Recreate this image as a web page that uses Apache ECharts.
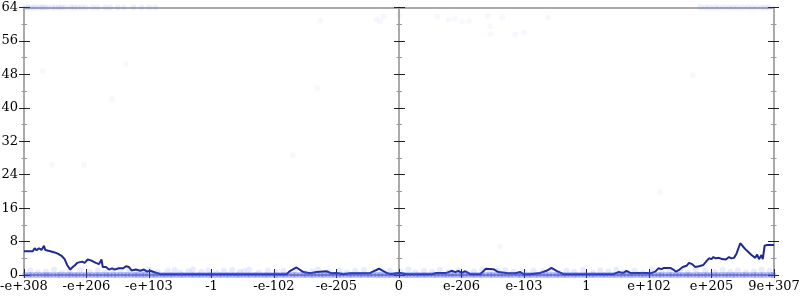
<!DOCTYPE html>
<html>
<head>
<meta charset="utf-8">
<script src="https://cdn.jsdelivr.net/npm/echarts@6/dist/echarts.min.js"></script>
<style>html,body{margin:0;padding:0;background:#fff}#c{width:800px;height:300px}</style>
</head>
<body>
<div id="c"></div>
<script>
// x axis tick labels (12 equal intervals)
const xTickLabels = ['-e+308','-e+206','-e+103','-1','-e-102','-e-205','0','e-206','e-103','1','e+102','e+205','9e+307'];
// y range
const yMax = 64, yStep = 8;

// main line: position (in tick-interval units) and value
const lineX = [0.00,0.14,0.17,0.20,0.24,0.28,0.32,0.34,0.37,0.42,0.45,0.49,0.54,0.60,0.65,0.69,0.74,0.78,0.82,0.85,0.88,0.93,0.97,1.02,1.07,1.11,1.15,1.20,1.24,1.26,1.31,1.36,1.41,1.45,1.52,1.59,1.63,1.68,1.72,1.79,1.86,1.92,1.97,2.02,2.10,2.18,4.20,4.26,4.36,4.47,4.58,4.68,4.84,4.92,5.00,5.11,5.22,5.38,5.54,5.68,5.80,5.86,5.96,6.02,6.12,6.52,6.60,6.76,6.84,6.90,6.95,7.00,7.06,7.14,7.30,7.39,7.51,7.59,7.72,7.86,7.94,7.99,8.10,8.26,8.36,8.44,8.52,8.63,9.43,9.51,9.59,9.64,9.70,9.96,10.02,10.10,10.15,10.20,10.24,10.34,10.39,10.43,10.49,10.54,10.60,10.64,10.69,10.74,10.80,10.87,10.92,10.96,11.00,11.03,11.07,11.12,11.17,11.23,11.28,11.32,11.36,11.40,11.46,11.51,11.56,11.64,11.70,11.73,11.76,11.80,11.82,11.85,11.89,12.00];
const lineY = [5.7,5.7,6.4,5.9,6.4,6.0,7.0,6.0,6.2,5.7,5.9,5.4,5.1,4.6,3.8,2.4,1.3,1.9,2.4,2.9,2.6,3.2,2.9,3.7,3.5,3.2,2.9,2.6,3.7,1.9,1.9,1.3,1.6,1.3,1.6,1.6,2.1,1.9,1.1,1.3,1.0,1.3,0.8,1.0,0.6,0.2,0.2,1.0,1.8,0.7,0.4,0.7,0.9,0.4,0.5,0.2,0.4,0.4,0.5,1.5,0.5,0.2,0.4,0.5,0.2,0.2,0.5,0.5,1.0,0.7,1.0,0.5,0.9,0.2,0.2,1.5,1.4,0.7,0.5,0.4,0.7,0.2,0.2,0.5,1.0,1.7,1.0,0.2,0.2,0.7,0.5,1.0,0.5,0.5,0.4,0.8,1.6,1.4,1.7,1.7,1.3,0.8,1.3,1.9,2.2,2.9,2.6,1.9,2.1,2.4,3.3,4.0,3.8,4.3,4.0,4.1,3.8,3.7,4.3,4.0,4.1,5.1,7.6,6.7,5.9,4.8,4.1,4.9,3.8,4.8,3.8,7.0,7.2,7.2];

// faint sample points: dense band at zero
const zeroDotX = [0.02,0.08,0.13,0.19,0.25,0.31,0.36,0.41,0.47,0.53,0.58,0.64,0.70,0.75,0.81,0.86,0.92,0.98,1.03,1.09,1.15,1.20,1.26,1.32,1.37,1.43,1.48,1.54,1.60,1.65,1.71,1.77,1.82,1.88,1.93,1.99,2.05,2.10,2.16,2.22,2.27,2.33,2.38,2.44,2.50,2.55,2.61,2.67,2.72,2.78,2.83,2.89,2.95,3.00,3.06,3.12,3.17,3.23,3.28,3.34,3.40,3.45,3.51,3.57,3.62,3.68,3.73,3.79,3.85,3.90,3.96,4.02,4.07,4.13,4.18,4.24,4.30,4.35,4.41,4.47,4.52,4.58,4.63,4.69,4.75,4.80,4.86,4.92,4.97,5.03,5.08,5.14,5.20,5.25,5.31,5.37,5.42,5.48,5.53,5.59,5.65,5.70,5.76,5.82,5.87,5.93,5.98,6.04,6.10,6.15,6.21,6.27,6.32,6.38,6.43,6.49,6.55,6.60,6.66,6.72,6.77,6.83,6.88,6.94,7.00,7.05,7.11,7.17,7.22,7.28,7.33,7.39,7.45,7.50,7.56,7.62,7.67,7.73,7.78,7.84,7.90,7.95,8.01,8.07,8.12,8.18,8.23,8.29,8.35,8.40,8.46,8.52,8.57,8.63,8.68,8.74,8.80,8.85,8.91,8.97,9.02,9.08,9.13,9.19,9.25,9.30,9.36,9.42,9.47,9.53,9.58,9.64,9.70,9.75,9.81,9.87,9.92,9.98,10.03,10.09,10.15,10.20,10.26,10.32,10.37,10.43,10.48,10.54,10.60,10.65,10.71,10.77,10.82,10.88,10.93,10.99,11.05,11.10,11.16,11.22,11.27,11.33,11.38,11.44,11.50,11.55,11.61,11.67,11.72,11.78,11.83,11.89,11.95,11.99];
// faint sample points: scattered slightly above zero
const lowDotX = [0.10,0.22,0.35,0.48,0.60,0.73,0.90,1.05,1.18,1.30,1.42,1.55,1.68,1.80,1.91,2.00,2.14,2.30,2.41,2.50,2.63,2.70,2.84,2.95,3.08,3.20,3.33,3.45,3.52,3.60,3.76,3.90,4.03,4.15,4.33,4.50,4.61,4.70,4.88,5.05,5.17,5.30,5.44,5.60,5.72,5.85,6.02,6.15,6.26,6.40,6.53,6.65,6.79,6.95,7.08,7.20,7.33,7.45,7.58,7.70,7.83,8.00,8.15,8.30,8.43,8.55,8.68,8.80,8.95,9.10,9.22,9.35,9.48,9.60,9.77,9.90,10.05,10.20,10.33,10.50,10.62,10.75,10.90,11.05,11.18,11.30,11.42,11.55,11.68,11.80,11.93];
const lowDotY = [1.1,0.6,0.8,1.3,0.5,0.9,1.2,0.7,1.0,0.6,1.2,0.8,1.1,0.5,0.9,1.3,0.7,1.0,1.2,0.6,0.9,1.3,0.8,1.1,0.5,1.0,1.2,0.7,0.9,1.3,0.6,1.1,0.8,1.0,1.2,0.5,0.9,1.3,0.7,1.1,0.6,1.0,1.2,0.8,0.5,1.1,0.9,1.3,0.6,1.0,0.8,1.2,0.7,1.1,0.5,0.9,1.3,0.6,1.0,1.2,0.8,0.7,1.1,0.9,1.3,0.5,1.0,0.8,1.2,0.6,1.1,0.9,1.3,0.7,1.0,0.5,1.2,0.8,1.1,0.9,0.6,1.3,1.0,0.7,1.2,0.8,1.1,0.6,0.9,1.3,1.0];
// faint sample points: along the top
const topDotX = [0.02,0.06,0.10,0.15,0.19,0.25,0.29,0.33,0.38,0.45,0.50,0.56,0.60,0.66,0.75,0.80,0.86,0.92,0.99,1.10,1.18,1.30,1.38,1.50,1.60,1.75,1.88,2.00,2.10,10.82,10.90,10.97,11.05,11.12,11.20,11.28,11.35,11.42,11.50,11.58,11.65,11.72,11.80,11.86,11.92];
// faint sample points: elsewhere
const highDotX = [5.64,5.70,5.75,6.00,6.61,6.80,6.90,7.01,7.12,7.42,7.46,7.47,7.65,7.86,8.00,8.38,
  0.30,1.63,1.41,0.45,0.96,4.74,4.69,4.30,7.62,10.70,10.18];
const highDotY = [61.1,60.7,61.9,62.1,61.8,61.1,61.3,60.6,60.7,62.1,59.5,57.6,61.6,57.5,58.0,61.6,
  48.8,50.5,42.1,26.3,26.3,60.9,44.7,28.7,6.8,47.8,19.8];

const lineData = lineX.map((x, i) => [x, lineY[i]]);
const zeroData = zeroDotX.map(x => [x, 0]);
const lowData = lowDotX.map((x, i) => [x, lowDotY[i]]);
const topData = topDotX.map(x => [x, yMax]);
const highData = highDotX.map((x, i) => [x, highDotY[i]]);

const FONT = 'DejaVu Serif';
const GREY = '#aaaaaa';
const xBase = {type:'value', min:0, max:xTickLabels.length - 1, interval:1, splitLine:{show:false}};
const yBase = {type:'value', min:0, max:yMax, interval:yStep, splitLine:{show:false}};
function tick(inside, len) { return {show:true, inside:inside, length:len, lineStyle:{color:'#222', width:1}}; }
function minor(len) { return {show:true, splitNumber:2, length:len, lineStyle:{color:'#999', width:1}}; }
function aLine(show) { return {show:show, onZero:false, lineStyle:{color:GREY, width:2}}; }
const mid = -375;

const chart = echarts.init(document.getElementById('c'), null, {renderer:'canvas'});
chart.setOption({
  animation:false,
  backgroundColor:'#fff',
  grid:{left:24, right:26, top:7.5, bottom:25, containLabel:false, outerBoundsMode:'none'},
  xAxis:[
    Object.assign({}, xBase, {position:'bottom', axisLine:aLine(true), axisTick:tick(true, 6),
      axisLabel:{formatter:v => xTickLabels[Math.round(v)], fontFamily:FONT, fontSize:13, color:'#000', margin:5, showMinLabel:true, showMaxLabel:true}}),
    Object.assign({}, xBase, {position:'bottom', axisLine:aLine(false), axisTick:tick(false, 3), axisLabel:{show:false}}),
    Object.assign({}, xBase, {position:'top', axisLine:aLine(true), axisTick:{show:false}, axisLabel:{show:false}})
  ],
  yAxis:[
    Object.assign({}, yBase, {position:'left', axisLine:aLine(true), axisTick:tick(false, 5), minorTick:minor(2.5),
      axisLabel:{fontFamily:FONT, fontSize:13, color:'#000', margin:6}}),
    Object.assign({}, yBase, {position:'left', axisLine:aLine(false), axisTick:tick(true, 6), minorTick:minor(3), axisLabel:{show:false}}),
    Object.assign({}, yBase, {position:'right', axisLine:aLine(true), axisTick:tick(false, 5), minorTick:minor(2.5), axisLabel:{show:false}}),
    Object.assign({}, yBase, {position:'right', axisLine:aLine(false), axisTick:tick(true, 6), minorTick:minor(3), axisLabel:{show:false}}),
    Object.assign({}, yBase, {position:'left', offset:mid, axisLine:aLine(true), axisTick:tick(false, 5), minorTick:minor(2.5), axisLabel:{show:false}}),
    Object.assign({}, yBase, {position:'left', offset:mid, axisLine:aLine(false), axisTick:tick(true, 6), minorTick:minor(3), axisLabel:{show:false}})
  ],
  series:[
    {type:'line', xAxisIndex:0, yAxisIndex:0, data:lineData, showSymbol:false, symbol:'none',
      lineStyle:{color:'#1f2893', width:2}, z:3},
    {type:'scatter', data:zeroData, symbolSize:6, itemStyle:{color:'rgba(60,80,240,0.45)'}, z:4, clip:true},
    {type:'scatter', data:lowData, symbolSize:6, itemStyle:{color:'rgba(90,110,255,0.17)'}, z:4, clip:true},
    {type:'scatter', data:topData, symbolSize:6, itemStyle:{color:'rgba(90,110,255,0.14)'}, z:4, clip:true},
    {type:'scatter', data:highData, symbolSize:6, itemStyle:{color:'rgba(90,110,255,0.06)'}, z:4, clip:true}
  ]
});
</script>
</body>
</html>
